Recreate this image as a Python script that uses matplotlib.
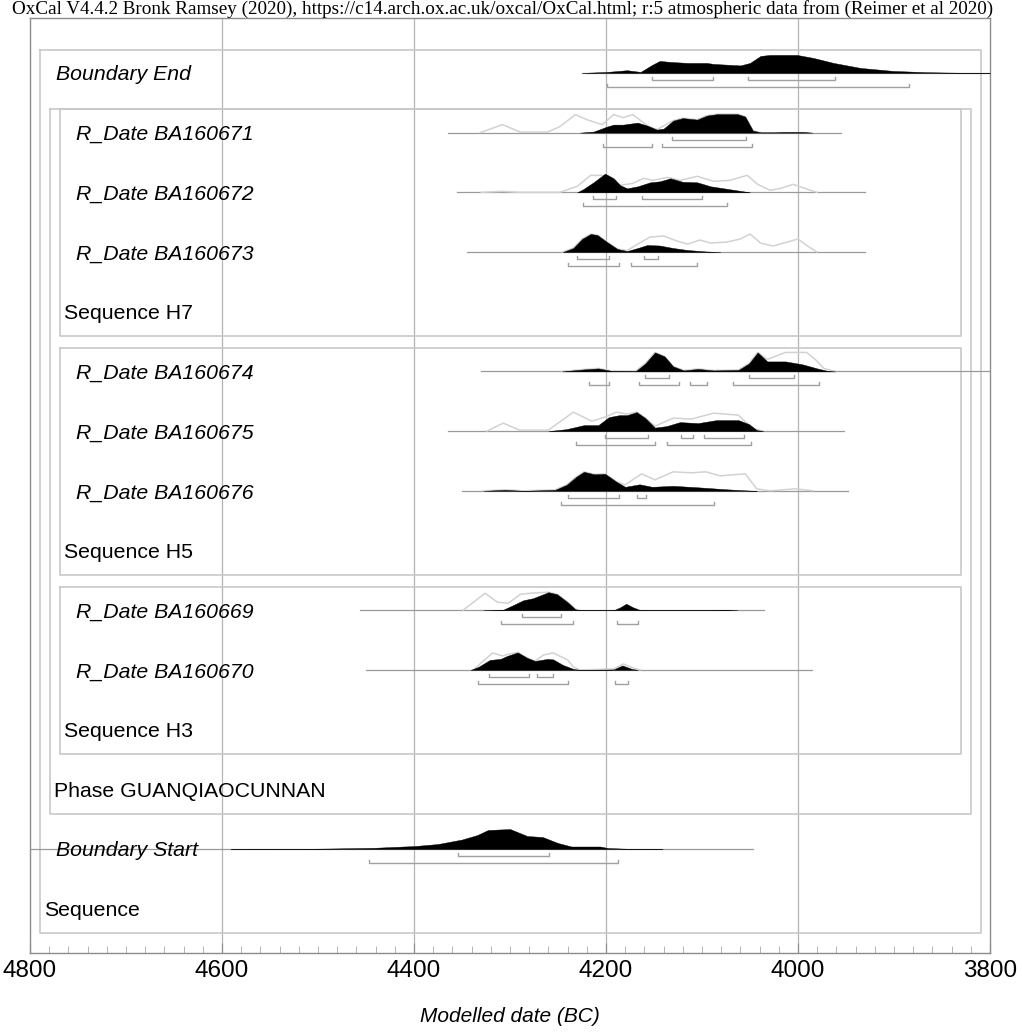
import matplotlib
matplotlib.use("Agg")
import matplotlib.pyplot as plt
from matplotlib.ticker import MultipleLocator
from matplotlib.transforms import blended_transform_factory

TITLE = ("OxCal V4.4.2 Bronk Ramsey (2020), https://c14.arch.ox.ac.uk/oxcal/OxCal.html; "
         "r:5 atmospheric data from (Reimer et al 2020)")
XLABEL = "Modelled date (BC)"
XTICKS = [4800, 4600, 4400, 4200, 4000, 3800]

# heights are relative probability (tallest peaks ~20)

# Boundary End
end_span = (4225, 3800)
end_post_yr = [4225, 4199, 4178, 4164, 4152, 4144, 4133, 4115, 4095, 4088, 4060, 4050,
               4039, 4029, 4001, 3984, 3963, 3935, 3901, 3865, 3831, 3800]
end_post_h = [0, 1, 2.7, 1, 8, 12, 11, 10, 10, 9, 7.5, 10, 17, 18, 18, 15, 10, 5, 2, 0.7, 0.2, 0]
end_r68 = [(4152, 4089), (4052, 3961)]
end_r95 = [(4199, 3884)]

# R_Date BA160671
d671_span = (4365, 3955)
d671_post_yr = [4227, 4213, 4199, 4192, 4182, 4167, 4157, 4147, 4140, 4130, 4120, 4105, 4095,
                4084, 4063, 4055, 4047, 4039, 4025, 4015, 3995, 3985]
d671_post_h = [0, 1, 6, 8, 8, 10, 7, 3, 4, 12, 14.5, 13, 17, 18.5, 18.5, 16, 2, 0.3, 0.3, 0.7, 0.7, 0]
d671_prior_yr = [4331, 4308, 4289, 4261, 4248, 4232, 4220, 4204, 4192, 4182, 4172, 4157, 4147,
                 4130, 4120, 4105, 4095, 4084, 4063, 4055, 4047, 4039]
d671_prior_h = [0, 8, 0.5, 0.5, 6, 18, 13, 8, 18, 15, 18, 7, 3, 12, 14.5, 13, 17, 18.5, 18.5, 16, 2, 0]
d671_r68 = [(4131, 4054)]
d671_r95 = [(4203, 4152), (4142, 4048)]

# R_Date BA160672
d672_span = (4355, 3930)
d672_post_yr = [4230, 4224, 4213, 4201, 4192, 4185, 4178, 4167, 4154, 4144, 4133, 4120, 4105,
                4091, 4074, 4057, 4050]
d672_post_h = [0, 3, 10, 18.7, 14, 7, 4, 6, 10, 11, 14, 10.5, 10, 6, 3.5, 1, 0]
d672_prior_yr = [4330, 4308, 4290, 4248, 4230, 4216, 4204, 4196, 4185, 4172, 4161, 4151, 4136,
                 4123, 4105, 4088, 4071, 4053, 4042, 4029, 4018, 4005, 3990, 3980]
d672_prior_h = [0, 1, 0, 0, 6, 17, 17, 13, 7, 9, 14, 12, 15, 12, 16, 11, 12, 17, 8, 2, 4, 8, 3, 0]
d672_r68 = [(4214, 4190), (4163, 4100)]
d672_r95 = [(4224, 4074)]

# R_Date BA160673
d673_span = (4345, 3930)
d673_post_yr = [4245, 4234, 4225, 4216, 4209, 4199, 4188, 4178, 4167, 4157, 4144, 4130, 4115,
                4095, 4081]
d673_post_h = [0, 4, 13, 18, 17, 10, 3, 1, 4, 7, 6.5, 4, 2, 0.5, 0]
d673_prior_yr = [4245, 4234, 4225, 4216, 4209, 4199, 4188, 4178, 4167, 4154, 4140, 4126, 4115,
                 4102, 4091, 4074, 4060, 4050, 4039, 4026, 4011, 4000, 3990, 3980]
d673_prior_h = [0, 4, 13, 18, 17, 10, 3, 1.5, 8, 15, 16, 11, 8, 12, 9, 10, 13, 18, 9, 6, 10, 13, 6, 0]
d673_r68 = [(4230, 4197), (4160, 4146)]
d673_r95 = [(4240, 4186), (4174, 4105)]

# R_Date BA160674
d674_span = (4330, 3800)
d674_post_yr = [4246, 4223, 4208, 4194, 4169, 4159, 4149, 4139, 4130, 4119, 4104, 4088, 4062,
                4051, 4042, 4032, 4013, 3995, 3980, 3969, 3961]
d674_post_h = [0, 2, 3, 0.5, 0.3, 8, 19, 15, 5, 1, 2.5, 1, 1.5, 8, 19, 10, 10, 7, 3, 0.5, 0]
d674_prior_yr = [4246, 4223, 4208, 4194, 4169, 4159, 4149, 4139, 4130, 4119, 4104, 4088, 4062,
                 4051, 4042, 4032, 4013, 3991, 3982, 3973, 3961]
d674_prior_h = [0, 2, 3, 0.5, 0.3, 8, 19, 15, 5, 1, 2.5, 1, 1.5, 8, 19, 12, 19, 19, 12, 3, 0]
d674_r68 = [(4159, 4134), (4051, 4004)]
d674_r95 = [(4218, 4197), (4166, 4124), (4112, 4095), (4068, 3978)]

# R_Date BA160675
d675_span = (4365, 3952)
d675_post_yr = [4260, 4241, 4223, 4208, 4197, 4186, 4178, 4168, 4159, 4149, 4137, 4123, 4104,
                4085, 4062, 4051, 4043, 4036]
d675_post_h = [0, 2, 6, 6, 14, 16, 16, 19, 13, 3.5, 5, 9, 8, 11, 11, 7, 1, 0]
d675_prior_yr = [4324, 4307, 4290, 4260, 4234, 4215, 4201, 4189, 4178, 4168, 4159, 4149, 4130,
                 4111, 4088, 4062, 4048, 4036]
d675_prior_h = [0, 8, 1, 1, 19, 10, 14, 19, 17, 19, 13, 5, 13, 12, 18, 16, 3, 0]
d675_r68 = [(4201, 4156), (4122, 4109), (4098, 4056)]
d675_r95 = [(4231, 4149), (4136, 4049)]

# R_Date BA160676
d676_span = (4350, 3948)
d676_post_yr = [4328, 4305, 4286, 4253, 4241, 4231, 4223, 4212, 4201, 4189, 4180, 4165, 4152,
                4130, 4104, 4074, 4051, 4043]
d676_post_h = [0, 1, 0, 1, 6, 14, 19, 16.5, 17, 9, 4, 6.5, 4, 5, 3.5, 1.5, 0.3, 0]
d676_prior_yr = [4328, 4305, 4286, 4253, 4241, 4231, 4223, 4212, 4201, 4189, 4180, 4163, 4149,
                 4130, 4111, 4096, 4081, 4055, 4043, 4029, 4003, 3984]
d676_prior_h = [0, 1, 0, 1, 6, 14, 19, 16.5, 17, 9, 6, 17, 11, 19, 18, 19, 15, 17, 2, 0, 2, 0]
d676_r68 = [(4240, 4186), (4168, 4158)]
d676_r95 = [(4247, 4088)]

# R_Date BA160669
d669_span = (4456, 4035)
d669_post_yr = [4328, 4307, 4297, 4286, 4276, 4260, 4251, 4240, 4232, 4227, 4192, 4185, 4179,
                4172, 4164, 4088, 4076, 4063]
d669_post_h = [0, 0.5, 5, 10, 12, 18, 16, 8, 1, 0, 0, 3, 6.5, 3, 0, 0, 0.5, 0]
d669_prior_yr = [4349, 4338, 4326, 4313, 4302, 4289, 4279, 4260, 4251, 4240, 4232, 4227]
d669_prior_h = [0, 8, 17, 8, 7, 16, 17, 18, 16, 8, 1, 0]
d669_r68 = [(4288, 4247)]
d669_r95 = [(4309, 4234), (4189, 4167)]

# R_Date BA160670
d670_span = (4450, 3985)
d670_post_yr = [4341, 4333, 4321, 4310, 4303, 4292, 4282, 4274, 4261, 4255, 4245, 4234, 4227,
                4192, 4183, 4173, 4167]
d670_post_h = [0, 3, 10, 11, 14, 17.5, 12, 9, 11, 10.5, 5, 1, 0, 0.5, 4.5, 1, 0]
d670_prior_yr = [4338, 4329, 4318, 4308, 4300, 4292, 4282, 4274, 4265, 4255, 4240, 4234, 4227,
                 4192, 4182, 4172, 4164]
d670_prior_h = [0, 8, 17, 14, 16, 17.5, 12, 9, 15, 17, 10, 3, 0, 1, 6, 2, 0]
d670_r68 = [(4322, 4280), (4272, 4255)]
d670_r95 = [(4333, 4240), (4191, 4177)]

# Boundary Start
start_span = (4800, 4047)
start_post_yr = [4591, 4503, 4442, 4399, 4375, 4350, 4334, 4323, 4300, 4282, 4266, 4250, 4236,
                 4206, 4198, 4178, 4141]
start_post_h = [0, 0.3, 1.2, 3, 5, 9.5, 14, 19, 20, 13, 12, 6, 2.5, 2.5, 1, 0.3, 0]
start_r68 = [(4354, 4259)]
start_r95 = [(4447, 4187)]

# rows from top: (label, span, posterior, prior, r68, r95, label indent level)
rows = [
    ("Boundary End", end_span, (end_post_yr, end_post_h), None, end_r68, end_r95, 1),
    ("R_Date BA160671", d671_span, (d671_post_yr, d671_post_h), (d671_prior_yr, d671_prior_h), d671_r68, d671_r95, 3),
    ("R_Date BA160672", d672_span, (d672_post_yr, d672_post_h), (d672_prior_yr, d672_prior_h), d672_r68, d672_r95, 3),
    ("R_Date BA160673", d673_span, (d673_post_yr, d673_post_h), (d673_prior_yr, d673_prior_h), d673_r68, d673_r95, 3),
    None,
    ("R_Date BA160674", d674_span, (d674_post_yr, d674_post_h), (d674_prior_yr, d674_prior_h), d674_r68, d674_r95, 3),
    ("R_Date BA160675", d675_span, (d675_post_yr, d675_post_h), (d675_prior_yr, d675_prior_h), d675_r68, d675_r95, 3),
    ("R_Date BA160676", d676_span, (d676_post_yr, d676_post_h), (d676_prior_yr, d676_prior_h), d676_r68, d676_r95, 3),
    None,
    ("R_Date BA160669", d669_span, (d669_post_yr, d669_post_h), (d669_prior_yr, d669_prior_h), d669_r68, d669_r95, 3),
    ("R_Date BA160670", d670_span, (d670_post_yr, d670_post_h), (d670_prior_yr, d670_prior_h), d670_r68, d670_r95, 3),
    None,
    None,
    ("Boundary Start", start_span, (start_post_yr, start_post_h), None, start_r68, start_r95, 1),
    None,
]

# grouping boxes: (name, first row, last row, nesting level)
groups = [
    ("Sequence", 0, 14, 1),
    ("Phase GUANQIAOCUNNAN", 1, 12, 2),
    ("Sequence H7", 1, 4, 3),
    ("Sequence H5", 5, 8, 3),
    ("Sequence H3", 9, 11, 3),
]

SANS = ["Liberation Sans", "DejaVu Sans"]

W, H = 1022, 1032
fig = plt.figure(figsize=(W / 100, H / 100), dpi=100)
ax = fig.add_axes([30 / W, 79 / H, 960 / W, 935 / H])

ROW_PX = 59.7
PEAK = 0.335 / 20.0      # row units per unit of relative probability
px = 1.0 / ROW_PX        # one pixel in row units
ax.set_xlim(4800, 3800)
ax.set_ylim(935 / ROW_PX - 0.92, -0.92)

for g in XTICKS[1:-1]:
    ax.axvline(g, color="#b4b4b4", lw=0.9, zorder=0)

inset = {1: 9.5 / 960, 2: 19.5 / 960, 3: 29.5 / 960}
tr = blended_transform_factory(ax.transAxes, ax.transData)

for name, first, last, lvl in groups:
    x0, x1 = inset[lvl], 1 - inset[lvl]
    y0, y1 = first - 0.39, last + 0.41
    ax.plot([x0, x1, x1, x0, x0], [y0, y0, y1, y1, y0], transform=tr,
            color="#c8c8c8", lw=1.2, zorder=1)
    ax.text(x0 + 5 / 960, last + 0.125, name, transform=tr, fontsize=15.3,
            family=SANS, va="baseline", ha="left")

for i, row in enumerate(rows):
    if row is None:
        continue
    label, span, post, prior, r68, r95, lvl = row
    ax.plot(span, [i, i], color="#9a9a9a", lw=0.9, zorder=2)
    if prior is not None:
        ax.plot(prior[0], [i - h * PEAK for h in prior[1]], color="#d2d2d2", lw=1.1, zorder=2)
    ax.fill_between(post[0], i, [i - h * PEAK for h in post[1]], color="black", lw=0.3,
                    edgecolor="black", zorder=3)
    for ranges, off in ((r68, 7 * px), (r95, 14 * px)):
        for a, b in ranges:
            yb = i + off
            ax.plot([a, a, b, b], [yb - 3 * px, yb, yb, yb - 3 * px], color="#a0a0a0",
                    lw=1.0, zorder=2)
    ax.text(inset[lvl] + 16 / 960, i + 0.125, label, transform=tr, fontsize=15.3,
            family=SANS, style="italic", va="baseline", ha="left")

for s in ax.spines.values():
    s.set_color("#8c8c8c")
    s.set_linewidth(1.0)

ax.set_yticks([])
ax.set_xticks(XTICKS)
ax.xaxis.set_minor_locator(MultipleLocator(20))
ax.tick_params(axis="x", which="major", direction="in", length=7, color="#8c8c8c", pad=5)
ax.tick_params(axis="x", which="minor", direction="in", length=5, color="#a8a8a8")
for t in ax.get_xticklabels():
    t.set_fontfamily(SANS)
    t.set_fontsize(17.5)

fig.text(12 / W, 1 - 9 / H, TITLE, family=["Liberation Serif", "DejaVu Serif"],
         fontsize=13.8, va="center", ha="left")
fig.text(510 / W, 1 - 1016 / H, XLABEL, family=SANS, style="italic", fontsize=15,
         va="center", ha="center")

fig.savefig("out.png", dpi=100)
plt.close(fig)
